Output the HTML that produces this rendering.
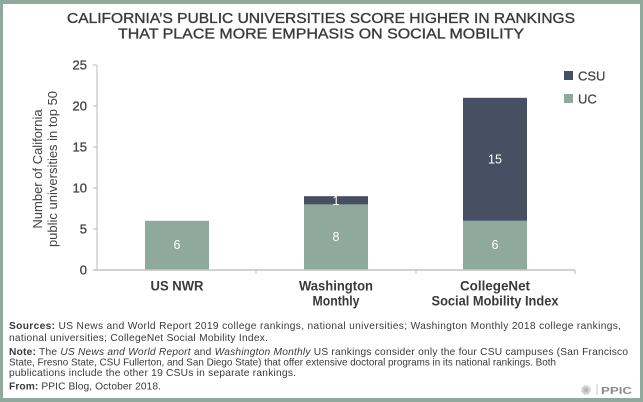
<!DOCTYPE html>
<html>
<head>
<meta charset="utf-8">
<style>
  html, body { margin:0; padding:0; background:#fff; }
  svg { display:block; }
  text { font-family: "Liberation Sans", "DejaVu Sans", sans-serif; }
</style>
</head>
<body>
<svg width="643" height="402" viewBox="0 0 643 402" xmlns="http://www.w3.org/2000/svg">
  <!-- frame -->
  <rect x="0" y="0" width="643" height="402" fill="#8fa99c"/>
  <rect x="3" y="4" width="637" height="394" fill="#ffffff"/>

  <!-- title -->
  <g stroke="#3a3a3a" stroke-width="0.35">
  <text x="321" y="23" text-anchor="middle" font-size="14.5" fill="#3a3a3a" textLength="508" lengthAdjust="spacingAndGlyphs">CALIFORNIA’S PUBLIC UNIVERSITIES SCORE HIGHER IN RANKINGS</text>
  <text x="321" y="38.5" text-anchor="middle" font-size="14.5" fill="#3a3a3a" textLength="406" lengthAdjust="spacingAndGlyphs">THAT PLACE MORE EMPHASIS ON SOCIAL MOBILITY</text>
  </g>

  <!-- y axis title -->
  <g transform="translate(42,169) rotate(-90)">
    <text x="0" y="0" text-anchor="middle" font-size="13" fill="#444">Number of California</text>
    <text x="0" y="15" text-anchor="middle" font-size="13" fill="#444">public universities in top 50</text>
  </g>

  <!-- y axis -->
  <line x1="97" y1="65" x2="97" y2="270" stroke="#c4c4c4" stroke-width="1.2"/>
  <g stroke="#c4c4c4" stroke-width="1.2">
    <line x1="93" y1="65" x2="97" y2="65"/>
    <line x1="93" y1="106" x2="97" y2="106"/>
    <line x1="93" y1="147" x2="97" y2="147"/>
    <line x1="93" y1="188" x2="97" y2="188"/>
    <line x1="93" y1="229" x2="97" y2="229"/>
    <line x1="93" y1="270" x2="97" y2="270"/>
  </g>
  <g font-size="13" fill="#444" text-anchor="end" stroke="#444" stroke-width="0.3">
    <text x="87" y="69.5">25</text>
    <text x="87" y="110.5">20</text>
    <text x="87" y="151.5">15</text>
    <text x="87" y="192.5">10</text>
    <text x="87" y="233.5">5</text>
    <text x="87" y="274.5">0</text>
  </g>

  <!-- bars -->
  <rect x="145" y="220.8" width="64" height="49.2" fill="#8fa99c"/>
  <rect x="304" y="204.4" width="64" height="65.6" fill="#8fa99c"/>
  <rect x="304" y="196.2" width="64" height="8.2" fill="#465062"/>
  <rect x="463" y="220.8" width="64" height="49.2" fill="#8fa99c"/>
  <rect x="463" y="97.8" width="64" height="123" fill="#465062"/>

  <!-- data labels -->
  <g font-size="12.5" fill="#ffffff" text-anchor="middle">
    <text x="177" y="249">6</text>
    <text x="336" y="241">8</text>
    <text x="336" y="205">1</text>
    <text x="495" y="163.5">15</text>
    <text x="495" y="249">6</text>
  </g>

  <!-- x axis -->
  <line x1="93" y1="270" x2="575" y2="270" stroke="#c4c4c4" stroke-width="1.5"/>
  <g stroke="#c4c4c4" stroke-width="1.2">
    <line x1="256" y1="270" x2="256" y2="274"/>
    <line x1="416" y1="270" x2="416" y2="274"/>
    <line x1="575" y1="270" x2="575" y2="274"/>
  </g>
  <g font-size="13.5" font-weight="bold" fill="#3a3a3a" text-anchor="middle">
    <text x="177" y="290.5" textLength="53" lengthAdjust="spacingAndGlyphs">US NWR</text>
    <text x="336" y="290.5" textLength="74" lengthAdjust="spacingAndGlyphs">Washington</text>
    <text x="336" y="305.5" textLength="47" lengthAdjust="spacingAndGlyphs">Monthly</text>
    <text x="495" y="290.5" textLength="70" lengthAdjust="spacingAndGlyphs">CollegeNet</text>
    <text x="495" y="305.5" textLength="127" lengthAdjust="spacingAndGlyphs">Social Mobility Index</text>
  </g>

  <!-- legend -->
  <rect x="564" y="71" width="9" height="9" fill="#465062"/>
  <text x="578" y="80.5" font-size="13" fill="#444" stroke="#444" stroke-width="0.25">CSU</text>
  <rect x="564" y="94" width="9" height="9" fill="#8fa99c"/>
  <text x="578" y="103.5" font-size="13" fill="#444" stroke="#444" stroke-width="0.25">UC</text>

  <!-- footnotes -->
  <g font-size="10.2" fill="#3a3a3a">
    <text x="9" y="329" textLength="612"><tspan font-weight="bold">Sources:</tspan> US News and World Report 2019 college rankings, national universities; Washington Monthly 2018 college rankings,</text>
    <text x="9" y="341" textLength="259">national universities; CollegeNet Social Mobility Index.</text>
    <text x="9" y="355" textLength="619"><tspan font-weight="bold">Note:</tspan> The <tspan font-style="italic">US News and World Report</tspan> and <tspan font-style="italic">Washington Monthly</tspan> US rankings consider only the four CSU campuses (San Francisco</text>
    <text x="9" y="365.5" textLength="547" lengthAdjust="spacingAndGlyphs">State, Fresno State, CSU Fullerton, and San Diego State) that offer extensive doctoral programs in its national rankings. Both</text>
    <text x="9" y="376" textLength="287">publications include the other 19 CSUs in separate rankings.</text>
    <text x="9" y="389.5" textLength="152"><tspan font-weight="bold">From:</tspan> PPIC Blog, October 2018.</text>
  </g>

  <!-- PPIC logo -->
  <g stroke="#b5b5b5" stroke-width="0.8">
    <line x1="586" y1="385" x2="586" y2="395"/>
    <line x1="581" y1="390" x2="591" y2="390"/>
    <line x1="582.5" y1="386.5" x2="589.5" y2="393.5"/>
    <line x1="589.5" y1="386.5" x2="582.5" y2="393.5"/>
    <line x1="584" y1="385.4" x2="588" y2="394.6"/>
    <line x1="588" y1="385.4" x2="584" y2="394.6"/>
    <line x1="581.4" y1="388" x2="590.6" y2="392"/>
    <line x1="581.4" y1="392" x2="590.6" y2="388"/>
  </g>
  <line x1="597" y1="384" x2="597" y2="395" stroke="#c8c8c8" stroke-width="1"/>
  <text x="601" y="394" font-size="10.5" font-weight="bold" fill="#8a8a8a" textLength="31" lengthAdjust="spacingAndGlyphs">PPIC</text>
</svg>
</body>
</html>
